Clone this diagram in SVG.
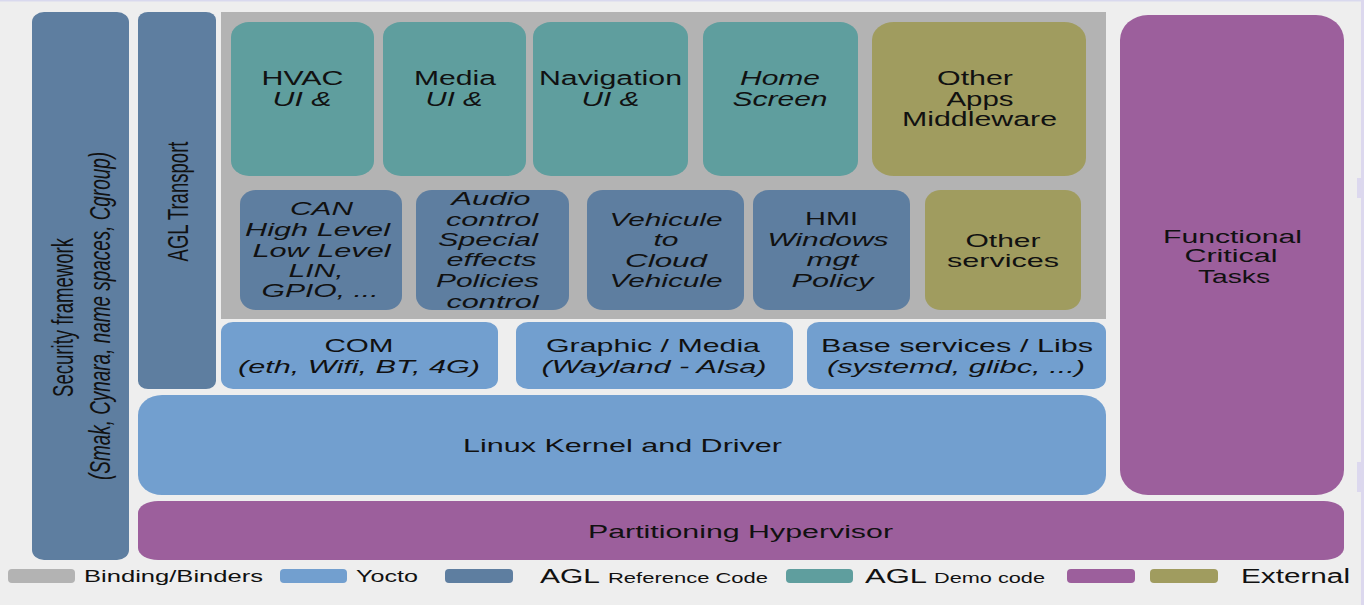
<svg xmlns="http://www.w3.org/2000/svg" width="1364" height="605" viewBox="0 0 1364 605">
<style>
text{font-family:"Liberation Sans",Arial,sans-serif;fill:#111;text-anchor:middle}
.i{font-style:italic}
.l{text-anchor:start}
.f20{font-size:20px}
.f19{font-size:19px}
.f18{font-size:18px}
.f17{font-size:17px}
.f15{font-size:15px}
.v{font-size:30px}
.bind{fill:#b3b3b3}
.yoc{fill:#729fcf}
.ref{fill:#5e7ea0}
.demo{fill:#5f9e9e}
.ext{fill:#a09c5f}
.pur{fill:#9c5f9c}
</style>
<rect x="0" y="0" width="1364" height="605" fill="#eeeeee"/>
<rect x="0" y="0" width="1364" height="1.5" fill="#d9d9ee"/>
<rect x="1361" y="0" width="3" height="605" fill="#dcd8ee"/>
<rect x="1357" y="178" width="7" height="20" fill="#dcd8ee"/>
<rect x="1357" y="462" width="7" height="30" fill="#dcd8ee"/>

<g id="security">
<rect class="ref" x="32" y="12" width="97" height="548" rx="12" ry="10"/>
<text class="v" transform="translate(73,317.5) rotate(-90)" textLength="159" lengthAdjust="spacingAndGlyphs">Security framework</text>
<text class="v i" transform="translate(110,316) rotate(-90)" textLength="328" lengthAdjust="spacingAndGlyphs">(Smak, Cynara, name spaces, Cgroup)</text>
</g>
<g id="transport">
<rect class="ref" x="138" y="12" width="78" height="377" rx="10" ry="8"/>
<text class="v" transform="translate(188,201.5) rotate(-90)" textLength="120" lengthAdjust="spacingAndGlyphs">AGL Transport</text>
</g>
<g id="binding">
<rect class="bind" x="221" y="12" width="885" height="307"/>
</g>

<g id="hvac">
<rect class="demo" x="231" y="22" width="143" height="154" rx="18" ry="15"/>
<text class="f20" x="302.5" y="85" textLength="82" lengthAdjust="spacingAndGlyphs">HVAC</text>
<text class="f20 i" x="302" y="106" textLength="59" lengthAdjust="spacingAndGlyphs">UI &amp;</text>
</g>
<g id="media">
<rect class="demo" x="383" y="22" width="143" height="154" rx="18" ry="15"/>
<text class="f20" x="455" y="85" textLength="82" lengthAdjust="spacingAndGlyphs">Media</text>
<text class="f20 i" x="454" y="106" textLength="57" lengthAdjust="spacingAndGlyphs">UI &amp;</text>
</g>
<g id="navigation">
<rect class="demo" x="533" y="22" width="155" height="154" rx="18" ry="15"/>
<text class="f20" x="610.5" y="85" textLength="143" lengthAdjust="spacingAndGlyphs">Navigation</text>
<text class="f20 i" x="610.5" y="106" textLength="58" lengthAdjust="spacingAndGlyphs">UI &amp;</text>
</g>
<g id="home">
<rect class="demo" x="703" y="22" width="155" height="154" rx="18" ry="15"/>
<text class="f20 i" x="780" y="85" textLength="80" lengthAdjust="spacingAndGlyphs">Home</text>
<text class="f20 i" x="780" y="106" textLength="95" lengthAdjust="spacingAndGlyphs">Screen</text>
</g>
<g id="otherapps">
<rect class="ext" x="872" y="22" width="214" height="154" rx="22" ry="18"/>
<text class="f20" x="975" y="85" textLength="76" lengthAdjust="spacingAndGlyphs">Other</text>
<text class="f20" x="980" y="106" textLength="67" lengthAdjust="spacingAndGlyphs">Apps</text>
<text class="f20" x="979.5" y="126" textLength="155" lengthAdjust="spacingAndGlyphs">Middleware</text>
</g>

<g id="can">
<rect class="ref" x="240" y="190" width="162" height="120" rx="16" ry="14"/>
<text class="f19 i" x="321.5" y="215" textLength="63" lengthAdjust="spacingAndGlyphs">CAN</text>
<text class="f19 i" x="317.5" y="236" textLength="145" lengthAdjust="spacingAndGlyphs">High Level</text>
<text class="f19 i" x="321.5" y="256.5" textLength="138" lengthAdjust="spacingAndGlyphs">Low Level</text>
<text class="f19 i" x="316" y="277" textLength="55" lengthAdjust="spacingAndGlyphs">LIN,</text>
<text class="f19 i" x="320" y="297" textLength="117" lengthAdjust="spacingAndGlyphs">GPIO, ...</text>
</g>
<g id="audio">
<rect class="ref" x="416" y="190" width="153" height="120" rx="16" ry="14"/>
<text class="f19 i" x="491" y="205" textLength="79" lengthAdjust="spacingAndGlyphs">Audio</text>
<text class="f19 i" x="492" y="225.5" textLength="92" lengthAdjust="spacingAndGlyphs">control</text>
<text class="f19 i" x="488" y="246" textLength="100" lengthAdjust="spacingAndGlyphs">Special</text>
<text class="f19 i" x="491.5" y="266" textLength="90" lengthAdjust="spacingAndGlyphs">effects</text>
<text class="f19 i" x="487.5" y="287" textLength="103" lengthAdjust="spacingAndGlyphs">Policies</text>
<text class="f19 i" x="492.5" y="308" textLength="92" lengthAdjust="spacingAndGlyphs">control</text>
</g>
<g id="vehicule">
<rect class="ref" x="587" y="190" width="157" height="120" rx="16" ry="14"/>
<text class="f19 i" x="666" y="226" textLength="113" lengthAdjust="spacingAndGlyphs">Vehicule</text>
<text class="f19 i" x="666" y="246" textLength="25" lengthAdjust="spacingAndGlyphs">to</text>
<text class="f19 i" x="666" y="267" textLength="82" lengthAdjust="spacingAndGlyphs">Cloud</text>
<text class="f19 i" x="666" y="287" textLength="113" lengthAdjust="spacingAndGlyphs">Vehicule</text>
</g>
<g id="hmi">
<rect class="ref" x="753" y="190" width="157" height="120" rx="16" ry="14"/>
<text class="f19" x="831.5" y="225" textLength="53" lengthAdjust="spacingAndGlyphs">HMI</text>
<text class="f19 i" x="828" y="246" textLength="121" lengthAdjust="spacingAndGlyphs">Windows</text>
<text class="f19 i" x="832.5" y="266" textLength="52" lengthAdjust="spacingAndGlyphs">mgt</text>
<text class="f19 i" x="832.5" y="287" textLength="82" lengthAdjust="spacingAndGlyphs">Policy</text>
</g>
<g id="otherservices">
<rect class="ext" x="925" y="190" width="156" height="120" rx="16" ry="14"/>
<text class="f19" x="1003" y="247" textLength="75" lengthAdjust="spacingAndGlyphs">Other</text>
<text class="f19" x="1003" y="267" textLength="112" lengthAdjust="spacingAndGlyphs">services</text>
</g>

<g id="com">
<rect class="yoc" x="221" y="322" width="277" height="67" rx="12" ry="10"/>
<text class="f19" x="359" y="352" textLength="69" lengthAdjust="spacingAndGlyphs">COM</text>
<text class="f19 i" x="359" y="373" textLength="242" lengthAdjust="spacingAndGlyphs">(eth, Wifi, BT, 4G)</text>
</g>
<g id="graphic">
<rect class="yoc" x="516" y="322" width="277" height="67" rx="12" ry="10"/>
<text class="f19" x="653" y="352" textLength="214" lengthAdjust="spacingAndGlyphs">Graphic / Media</text>
<text class="f19 i" x="654" y="373" textLength="225" lengthAdjust="spacingAndGlyphs">(Wayland - Alsa)</text>
</g>
<g id="base">
<rect class="yoc" x="807" y="322" width="299" height="67" rx="12" ry="10"/>
<text class="f19" x="957" y="352" textLength="272" lengthAdjust="spacingAndGlyphs">Base services / Libs</text>
<text class="f19 i" x="956" y="373" textLength="258" lengthAdjust="spacingAndGlyphs">(systemd, glibc, ...)</text>
</g>
<g id="kernel">
<rect class="yoc" x="138" y="395" width="968" height="100" rx="24" ry="20"/>
<text class="f19" x="622.5" y="452" textLength="319" lengthAdjust="spacingAndGlyphs">Linux Kernel and Driver</text>
</g>
<g id="hypervisor">
<rect class="pur" x="138" y="501" width="1206" height="59" rx="20" ry="12"/>
<text class="f18" x="740.5" y="537.5" textLength="305" lengthAdjust="spacingAndGlyphs">Partitioning Hypervisor</text>
</g>
<g id="functional">
<rect class="pur" x="1120" y="15" width="224" height="480" rx="28" ry="25"/>
<text class="f18" x="1232.5" y="242.5" textLength="139" lengthAdjust="spacingAndGlyphs">Functional</text>
<text class="f18" x="1231" y="262" textLength="93" lengthAdjust="spacingAndGlyphs">Critical</text>
<text class="f18" x="1234" y="282.5" textLength="72" lengthAdjust="spacingAndGlyphs">Tasks</text>
</g>

<g id="connectors"></g>

<g id="legend">
<rect class="bind" x="8" y="569" width="67" height="14" rx="4"/>
<text class="f17 l" x="84" y="582" textLength="179" lengthAdjust="spacingAndGlyphs">Binding/Binders</text>
<rect class="yoc" x="280" y="569" width="67" height="14" rx="4"/>
<text class="f17 l" x="356" y="582" textLength="62" lengthAdjust="spacingAndGlyphs">Yocto</text>
<rect class="ref" x="445" y="569" width="68" height="14" rx="4"/>
<text class="l" y="583"><tspan x="540" style="font-size:20px" textLength="60" lengthAdjust="spacingAndGlyphs">AGL</tspan><tspan x="608" style="font-size:15px" textLength="160" lengthAdjust="spacingAndGlyphs">Reference Code</tspan></text>
<rect class="demo" x="786" y="569" width="67" height="14" rx="4"/>
<text class="l" y="583"><tspan x="865" style="font-size:20px" textLength="62" lengthAdjust="spacingAndGlyphs">AGL</tspan><tspan x="934" style="font-size:15px" textLength="111" lengthAdjust="spacingAndGlyphs">Demo code</tspan></text>
<rect class="pur" x="1067" y="569" width="68" height="14" rx="4"/>
<rect class="ext" x="1150" y="569" width="68" height="14" rx="4"/>
<text class="f20 l" x="1241" y="583" textLength="109" lengthAdjust="spacingAndGlyphs">External</text>
</g>
</svg>
